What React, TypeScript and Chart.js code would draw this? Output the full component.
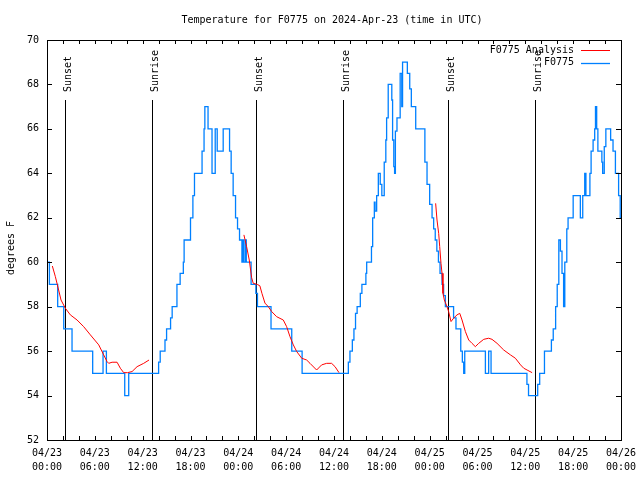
import { useEffect, useRef } from 'react';
import { Chart, registerables } from 'chart.js';

Chart.register(...registerables);

// Hours since 04/23 00:00 UTC
const titleText = 'Temperature for F0775 on 2024-Apr-23 (time in UTC)';
const yAxisTitle = 'degrees F';

const xTickDates = ['04/23', '04/23', '04/23', '04/23', '04/24', '04/24', '04/24', '04/24', '04/25', '04/25', '04/25', '04/25', '04/26'];
const xTickTimes = ['00:00', '06:00', '12:00', '18:00', '00:00', '06:00', '12:00', '18:00', '00:00', '06:00', '12:00', '18:00', '00:00'];

const eventHours = [2.28, 13.14, 26.22, 37.17, 50.33, 61.18];
const eventLabels = ['Sunset', 'Sunrise', 'Sunset', 'Sunrise', 'Sunset', 'Sunrise'];

// Observed (stepped: value reached at given hour)
const blueHours = [
  0, 0.3, 1.34, 2.1, 3.14, 5.73, 7.03, 7.45, 9.75, 10.25,
  14.0, 14.2, 14.8, 15.0, 15.5, 15.7, 16.3, 16.7, 17.1, 17.2,
  18.0, 18.3, 18.5, 19.45, 19.7, 19.8, 20.2, 20.7, 21.1, 21.35,
  22.1, 22.9, 23.1, 23.35, 23.65, 23.9, 24.15, 24.45, 24.6, 24.7,
  24.9, 25.0, 25.6, 26.2, 26.4, 28.1, 30.7, 32.0, 37.8, 38.0,
  38.3, 38.5, 38.7, 38.9, 39.3, 39.5, 40.0, 40.1, 40.7, 40.85,
  41.06, 41.15, 41.35, 41.56, 41.8, 42.0, 42.3, 42.5, 42.6, 42.8,
  43.25, 43.35, 43.5, 43.6, 43.7, 43.9, 44.3, 44.5, 44.6, 44.8,
  45.2, 45.5, 45.7, 46.25, 47.4, 47.67, 48.0, 48.3, 48.5, 48.7,
  48.9, 49.1, 49.3, 49.55, 49.75, 49.97, 51.0, 51.3, 51.9, 52.1,
  52.27, 52.4, 54.99, 55.4, 55.7, 60.2, 60.4, 61.55, 61.8, 62.4,
  63.27, 63.5, 63.8, 64.0, 64.2, 64.4, 64.6, 64.8, 64.95, 65.2,
  65.36, 66.0, 66.9, 67.2, 67.45, 67.6, 68.1, 68.25, 68.5, 68.7,
  68.8, 68.95, 69.1, 69.6, 69.7, 69.9, 70.1, 70.7, 71.0, 71.3,
  71.7, 71.9, 72.0,
];
const blueTemps = [
  60, 59, 58, 57, 56, 55, 56, 55, 54, 55,
  55.5, 56, 56.5, 57, 57.5, 58, 59, 59.5, 60, 61,
  62, 63, 64, 65, 66, 67, 66, 64, 66, 65,
  66, 65, 64, 63, 62, 61.5, 61, 60, 61, 60,
  61, 60, 59, 58.6, 58, 57, 56, 55, 55.5, 56,
  56.5, 57, 57.7, 58, 58.6, 59, 59.5, 60, 60.7, 62,
  62.7, 62.3, 63, 64, 63.5, 63, 64.5, 65.5, 66.5, 68,
  67.3, 65.5, 64.3, 64, 65.9, 66.5, 68.5, 67, 69, 69,
  68.5, 67.8, 67, 66, 64.5, 63.5, 62.6, 62, 61.5, 61,
  60.5, 60, 59.5, 59, 58.5, 58, 57.5, 57, 56, 55.5,
  55, 56, 55, 56, 55, 54.5, 54, 54.5, 55, 56,
  56.5, 57, 58, 59, 61, 60.5, 59.5, 58, 60, 61.5,
  62, 63, 62, 63, 64, 63, 64, 65, 65.5, 66,
  67, 66, 65, 64.5, 64, 65.2, 66, 65.5, 65, 64,
  63, 62, 62,
];

// Analysis (null marks a gap)
const redHours = [
  0.67, 1.05, 1.46, 1.76, 2.3, 2.93, 3.77, 4.6, 5.44, 6.49,
  7.11, 7.53, 7.74, 8.16, 8.79, 9.2, 9.62, 10.1, 10.67, 11.3,
  12.13, 12.8, 18.0,
  24.7, 25.04, 25.37, 25.67, 25.87, 26.38, 26.7, 26.96, 27.34, 27.76,
  28.18, 28.8, 29.64, 30.06, 30.48, 30.9, 31.32, 31.95, 32.57, 32.99,
  33.82, 34.45, 35.08, 35.7, 36.13, 36.63, 42.0,
  48.75, 48.92, 49.13, 49.26, 49.42, 49.55, 49.67, 49.84, 50.18, 50.38,
  50.68, 51.0, 51.43, 51.77, 52.06, 52.48, 52.9, 53.31, 53.73, 54.15,
  54.78, 55.4, 55.82, 56.45, 57.29, 58.13, 58.75, 59.4, 59.8, 60.22,
  60.85,
];
const redTemps = [
  59.83, 59.35, 58.75, 58.3, 57.93, 57.63, 57.4, 57.1, 56.73, 56.28,
  55.83, 55.53, 55.45, 55.5, 55.5, 55.23, 55.03, 55.03, 55.08, 55.3,
  55.45, 55.6, null,
  61.23, 60.7, 60.1, 59.3, 59.05, 59.0, 58.94, 58.6, 58.16, 58.0,
  57.78, 57.55, 57.4, 57.1, 56.65, 56.28, 55.98, 55.68, 55.6, 55.45,
  55.15, 55.38, 55.45, 55.45, 55.3, 55.03, null,
  62.65, 61.9, 61.3, 60.7, 59.95, 59.5, 58.6, 58.3, 58.0, 57.78,
  57.33, 57.48, 57.63, 57.7, 57.4, 56.88, 56.5, 56.35, 56.2, 56.35,
  56.53, 56.58, 56.53, 56.35, 56.05, 55.83, 55.68, 55.38, 55.23, 55.15,
  55.03,
];

const FONT = "'DejaVu Sans Mono', 'Liberation Mono', monospace";

const decorPlugin = {
  id: 'gnuplotDecor',
  beforeDatasetsDraw(chart: any) {
    const { ctx, chartArea: a, scales } = chart;
    const xs = scales.x;
    ctx.save();
    ctx.strokeStyle = '#000';
    ctx.lineWidth = 1;
    ctx.fillStyle = '#000';
    ctx.font = `10px ${FONT}`;
    eventHours.forEach((h, i) => {
      const x = Math.round(xs.getPixelForValue(h)) + 0.5;
      ctx.beginPath();
      ctx.moveTo(x, 100);
      ctx.lineTo(x, a.bottom);
      ctx.stroke();
      ctx.save();
      ctx.translate(x + 5.5, 92);
      ctx.rotate(-Math.PI / 2);
      ctx.textAlign = 'left';
      ctx.textBaseline = 'alphabetic';
      ctx.fillText(eventLabels[i], 0, 0);
      ctx.restore();
    });
    ctx.restore();
  },
  afterDraw(chart: any) {
    const { ctx, chartArea: a, scales } = chart;
    const xs = scales.x;
    const ys = scales.y;
    ctx.save();
    ctx.strokeStyle = '#000';
    ctx.fillStyle = '#000';
    ctx.lineWidth = 1;
    // frame
    ctx.strokeRect(Math.round(a.left) + 0.5, Math.round(a.top) + 0.5, Math.round(a.right - a.left), Math.round(a.bottom - a.top));
    // x ticks (inward, top & bottom)
    ctx.beginPath();
    for (let h = 0; h <= 72; h += 2) {
      const x = Math.round(xs.getPixelForValue(h)) + 0.5;
      const len = 4;
      ctx.moveTo(x, a.bottom);
      ctx.lineTo(x, a.bottom - len);
      ctx.moveTo(x, a.top);
      ctx.lineTo(x, a.top + len);
    }
    for (let v = 52; v <= 70; v += 2) {
      const y = Math.round(ys.getPixelForValue(v)) + 0.5;
      ctx.moveTo(a.left, y);
      ctx.lineTo(a.left + 5, y);
      ctx.moveTo(a.right, y);
      ctx.lineTo(a.right - 5, y);
    }
    ctx.stroke();

    ctx.font = `10px ${FONT}`;
    // title
    ctx.textAlign = 'center';
    ctx.textBaseline = 'middle';
    ctx.fillText(titleText, 332, 20);
    // y axis title
    ctx.save();
    ctx.translate(11, 248);
    ctx.rotate(-Math.PI / 2);
    ctx.fillText(yAxisTitle, 0, 0);
    ctx.restore();
    // legend
    const rows = [50, 62.5];
    chart.data.datasets.forEach((ds: any, i: number) => {
      const y = rows[i];
      ctx.textAlign = 'right';
      ctx.textBaseline = 'middle';
      ctx.fillStyle = '#000';
      ctx.fillText(ds.label, 574, y);
      ctx.strokeStyle = ds.borderColor;
      ctx.lineWidth = ds.borderWidth;
      ctx.beginPath();
      ctx.moveTo(581, Math.round(y) + 0.5);
      ctx.lineTo(610, Math.round(y) + 0.5);
      ctx.stroke();
    });
    ctx.restore();
  },
};

export default function App() {
  const ref = useRef<HTMLCanvasElement>(null);
  useEffect(() => {
    if (!ref.current) return;
    const chart = new Chart(ref.current, {
      type: 'line',
      data: {
        datasets: [
          {
            label: 'F0775 Analysis',
            data: redHours.map((h, i) => ({ x: h, y: redTemps[i] })),
            borderColor: '#ff0000',
            borderWidth: 1,
            pointRadius: 0,
            spanGaps: false,
            tension: 0,
          },
          {
            label: 'F0775',
            data: blueHours.map((h, i) => ({ x: h, y: blueTemps[i] })),
            borderColor: '#0080ff',
            borderWidth: 1.3,
            pointRadius: 0,
            stepped: 'before',
          },
        ],
      },
      options: {
        responsive: false,
        animation: false,
        layout: { padding: { left: 0, top: 40, right: 19, bottom: 0 } },
        plugins: { legend: { display: false }, title: { display: false }, tooltip: { enabled: false } },
        scales: {
          x: {
            type: 'linear',
            min: 0,
            max: 72,
            grid: { display: false, drawTicks: false },
            border: { display: false },
            afterFit: (s: any) => { s.height = 40; s.paddingLeft = 0; s.paddingRight = 0; },
            ticks: {
              stepSize: 6,
              autoSkip: false,
              maxRotation: 0,
              padding: 7,
              color: '#000',
              font: { family: FONT, size: 10, lineHeight: 1.35 },
              callback: (v: any) => {
                const i = Math.round(Number(v) / 6);
                return Number(v) % 6 === 0 ? [xTickDates[i], xTickTimes[i]] : '';
              },
            },
          },
          y: {
            min: 52,
            max: 70,
            grid: { display: false, drawTicks: false },
            border: { display: false },
            afterFit: (s: any) => { s.width = 47; s.paddingTop = 0; s.paddingBottom = 0; },
            ticks: {
              stepSize: 2,
              padding: 8,
              color: '#000',
              font: { family: FONT, size: 10 },
            },
          },
        },
      },
      plugins: [decorPlugin],
    });
    return () => chart.destroy();
  }, []);
  return (
    <canvas
      ref={ref}
      width={640}
      height={480}
      style={{ position: 'absolute', left: 0, top: 0, width: 640, height: 480, background: '#fff' }}
    />
  );
}
